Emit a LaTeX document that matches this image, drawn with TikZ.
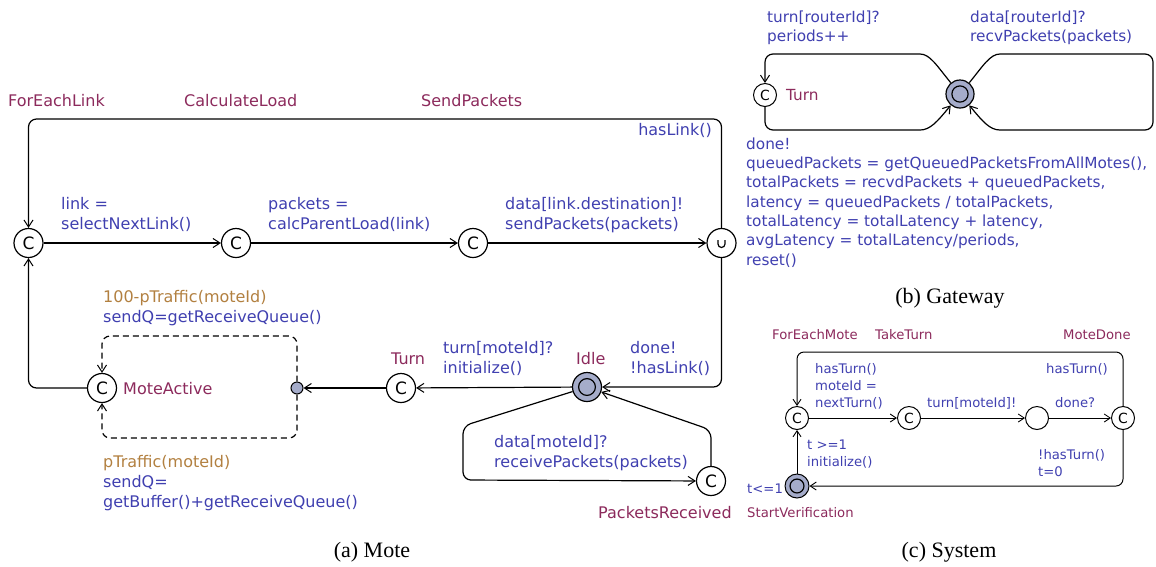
\documentclass[tikz,border=0pt]{standalone}
\usepackage{fontspec}
\setmainfont{Liberation Serif}
\newfontfamily\dv{DejaVu Sans}
\usetikzlibrary{arrows.meta}
\definecolor{locname}{RGB}{140,42,92}
\definecolor{lbl}{RGB}{64,64,176}
\definecolor{prob}{RGB}{178,128,64}
\definecolor{initfill}{RGB}{165,172,202}
\newcommand\fa{\dv\fontsize{16}{20}\selectfont}
\newcommand\fb{\dv\fontsize{15.3}{19.3}\selectfont}
\newcommand\fc{\dv\fontsize{13.2}{17}\selectfont}
\tikzset{
  arrowtip/.style={-{Straight Barb[length=7pt,width=9pt,line width=1pt]}},
  tedge/.style={line width=1.2pt, rounded corners=8pt, arrowtip},
  dedge/.style={tedge, dashed, dash pattern=on 6pt off 4pt},
  sedge/.style={line width=1pt, rounded corners=7pt, -{Straight Barb[length=6pt,width=8pt,line width=0.9pt]}},
  loc/.style={circle, draw, line width=1.2pt, minimum size=29pt, inner sep=0pt, font=\dv\fontsize{17}{17}\selectfont},
  locb/.style={circle, draw, line width=1pt, minimum size=23pt, inner sep=0pt, font=\dv\fontsize{14}{14}\selectfont},
  initloc/.style={circle, draw, line width=1.2pt, fill=initfill, minimum size=#1, inner sep=0pt,
     path picture={\draw[line width=1.2pt] (path picture bounding box.center) circle ({0.29*#1});}},
  dotloc/.style={circle, draw, line width=1pt, fill=initfill, minimum size=12pt, inner sep=0pt},
  lname/.style={anchor=base west, inner sep=0pt, text=locname},
  lab/.style={anchor=north west, inner sep=0pt, align=left, text=lbl},
  plab/.style={anchor=north west, inner sep=0pt, align=left},
  blab/.style={anchor=base west, inner sep=0pt, text=lbl},
  captxt/.style={anchor=base, inner sep=0pt, font=\fontsize{22}{26}\selectfont},
}
\begin{document}
\begin{tikzpicture}[x=1pt,y=-1pt]
\useasboundingbox (0,0) rectangle (1156,566);
% ================= (a) Mote =================
\node[loc] (fel) at (28.5,243) {C};
\node[loc] (cl) at (236,243) {C};
\node[loc] (sp) at (473,243) {C};
\node[loc] (u) at (721.5,243) {};
\draw[line width=1.2pt] ([xshift=-3.5pt,yshift=3pt]u.center) -- ([xshift=-3.5pt,yshift=-1pt]u.center) arc[start angle=180,end angle=360,radius=3.5pt] -- ([xshift=3.5pt,yshift=3pt]u.center);
\node[initloc=29pt] (idle) at (587,387) {};
\node[loc] (turn) at (401,388) {C};
\node[loc] (ma) at (102,388) {C};
\node[dotloc] (br) at (297,388) {};
\node[loc] (pr) at (711,481) {C};

\draw[tedge] (fel) -- (cl);
\draw[tedge] (cl) -- (sp);
\draw[tedge] (sp) -- (u);
\draw[tedge] (u) -- (721.5,119) -- (28.5,119) -- (fel);
\draw[tedge] (u) -- (721.5,387) -- (idle);
\draw[tedge] (idle) -- (turn);
\draw[tedge] (turn) -- (br);
\draw[tedge] (ma) -- (28.5,388) -- (fel);
\draw[dedge] (br) -- (297,336) -- (102,336) -- (ma);
\draw[dedge] (br) -- (297,438) -- (102,438) -- (ma);
\draw[tedge] (idle) -- (463,426) -- (463,480) -- (pr);
\draw[tedge] (pr) -- (711,430) -- (idle);

\begin{scope}[every node/.append style={font=\fa}]
\node[lname] (nfel) at (8,106) {ForEachLink};
\node[lname] (ncl) at (184,106) {CalculateLoad};
\node[lname] (nsp) at (421,106) {SendPackets};
\node[lname] (nma) at (123,394) {MoteActive};
\node[lname] (nturn) at (391,364) {Turn};
\node[lname] (nidle) at (576,364) {Idle};
\node[lname] (npr) at (598,518) {PacketsReceived};
\node[lab] (l1) at (61,195) {\strut link =\\selectNextLink()};
\node[lab] (l2) at (268,195) {\strut packets =\\calcParentLoad(link)};
\node[lab] (l3) at (505,195) {\strut data[link.destination]!\\sendPackets(packets)};
\node[anchor=base east, inner sep=0pt, text=lbl] (l4) at (712,135) {hasLink()};
\node[lab] (l5) at (443,339) {\strut turn[moteId]?\\initialize()};
\node[lab] (l6) at (630,339) {\strut done!\\!hasLink()};
\node[lab] (l7) at (494,433) {\strut data[moteId]?\\receivePackets(packets)};
\node[plab] (l8) at (103,288) {\strut\textcolor{prob}{100-pTraffic(moteId)}\\\textcolor{lbl}{sendQ=getReceiveQueue()}};
\node[plab] (l9) at (103,453) {\strut\textcolor{prob}{pTraffic(moteId)}\\\textcolor{lbl}{sendQ=}\\\textcolor{lbl}{getBuffer()+getReceiveQueue()}};
\end{scope}
\node[captxt] (capa) at (372,557) {(a) Mote};

% ================= (b) Gateway =================
\node[locb] (gturn) at (765,95) {C};
\node[initloc=28pt] (ginit) at (960,94) {};
\draw[tedge] (ginit) .. controls (937,66) and (930,54) .. (912,54) -- (765,54) -- (gturn);
\draw[tedge] (gturn) -- (765,130) -- (912,130) .. controls (930,130) and (937,122) .. (ginit);
\draw[tedge] (ginit) .. controls (983,66) and (990,54) .. (1008,54) -- (1153,54) -- (1153,130) -- (1008,130) .. controls (990,130) and (983,122) .. (ginit);
\begin{scope}[every node/.append style={font=\fb}]
\node[lname] (ngturn) at (786,100) {Turn};
\node[lab] (g1) at (767,8.5) {\strut turn[routerId]?\\periods++};
\node[lab] (g2) at (970,8.5) {\strut data[routerId]?\\recvPackets(packets)};
\node[lab] (g3) at (746,135.5) {\strut done!\\queuedPackets = getQueuedPacketsFromAllMotes(),\\totalPackets = recvdPackets + queuedPackets,\\latency = queuedPackets / totalPackets,\\totalLatency = totalLatency + latency,\\avgLatency = totalLatency/periods,\\reset()};
\end{scope}
\node[captxt] (capb) at (950,303) {(b) Gateway};

% ================= (c) System =================
\node[locb] (fem) at (797,418) {C};
\node[locb] (tt) at (909,418) {C};
\node[locb] (mid) at (1037,418) {};
\node[locb] (md) at (1123,418) {C};
\node[initloc=24pt, line width=1pt] (sv) at (797,486) {};
\draw[sedge] (fem) -- (tt);
\draw[sedge] (tt) -- (mid);
\draw[sedge] (mid) -- (md);
\draw[sedge] (md) -- (1123,352) -- (797,352) -- (fem);
\draw[sedge] (md) -- (1123,486) -- (sv);
\draw[sedge] (sv) -- (fem);
\begin{scope}[every node/.append style={font=\fc}]
\node[lname] (nfem) at (772,339) {ForEachMote};
\node[lname] (ntt) at (875,339) {TakeTurn};
\node[lname] (nmd) at (1063,339) {MoteDone};
\node[lname] (nsv) at (747,517) {StartVerification};
\node[blab] (s0) at (747,493) {t<=1};
\node[lab] (s1) at (815,361) {\strut hasTurn()\\moteId =\\nextTurn()};
\node[blab] (s2) at (1046,373) {hasTurn()};
\node[blab] (s3) at (927,407) {turn[moteId]!};
\node[blab] (s4) at (1055,407) {done?};
\node[lab] (s5) at (807,437) {\strut t >=1\\initialize()};
\node[lab] (s6) at (1038,447) {\strut !hasTurn()\\t=0};
\end{scope}
\node[captxt] (capc) at (949,557) {(c) System};
\end{tikzpicture}
\end{document}
